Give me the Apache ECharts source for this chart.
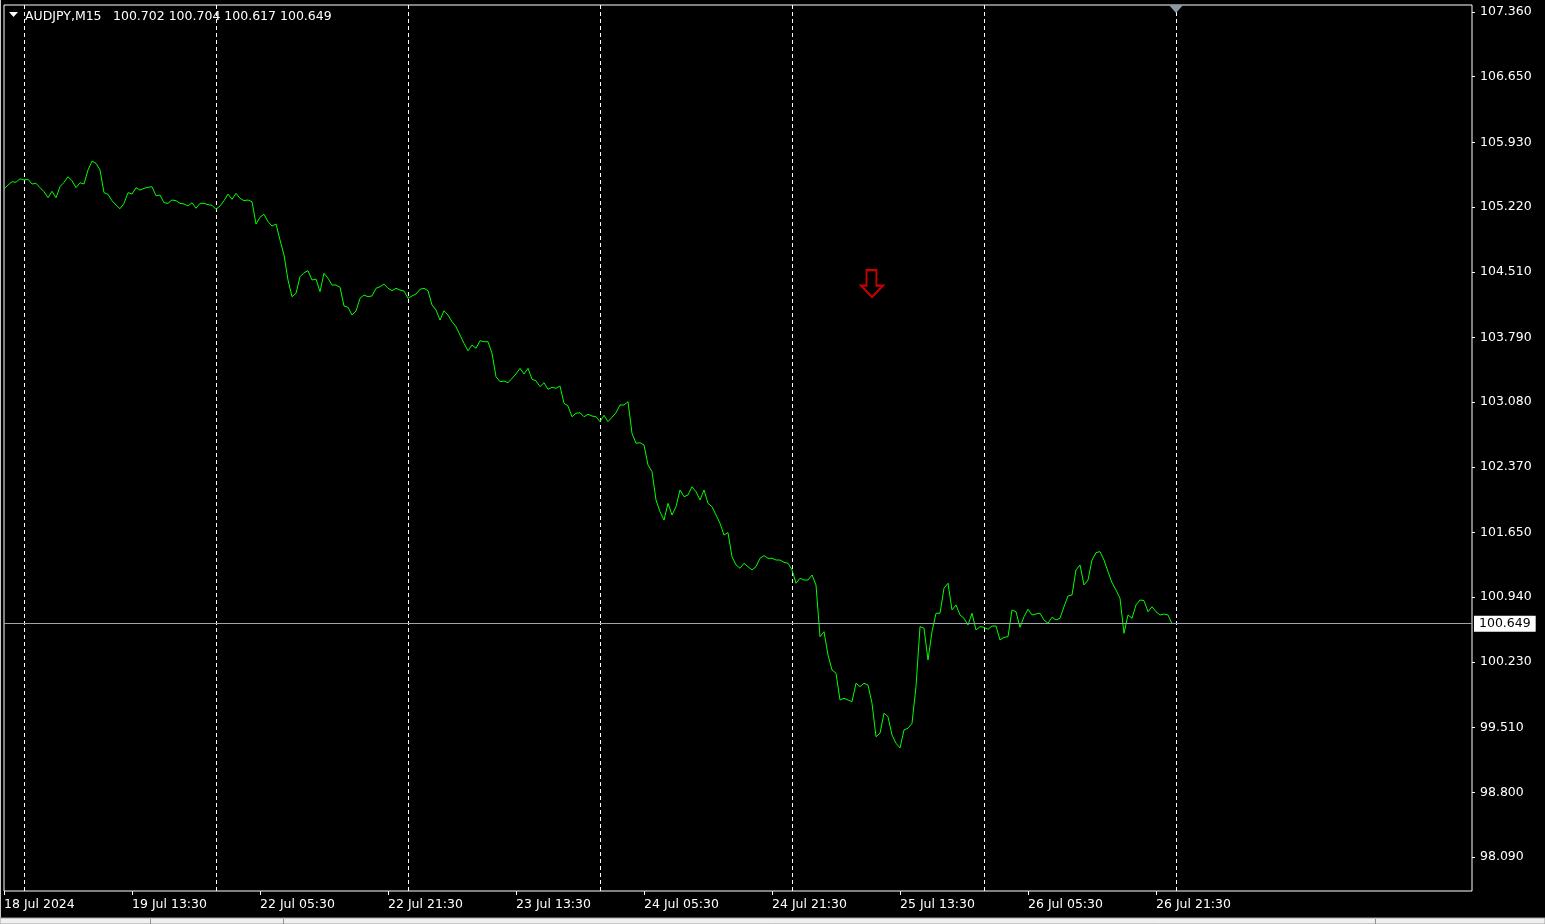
<!DOCTYPE html>
<html><head><meta charset="utf-8">
<script src="https://cdn.jsdelivr.net/npm/echarts@6/dist/echarts.min.js"></script>
<style>html,body{margin:0;padding:0;background:#000;overflow:hidden}#c{width:1545px;height:924px;}</style>
</head><body><div id="c"></div><script>
// ---- data ----
const symbolName = 'AUDJPY,M15';
const ohlcText = ['100.702', '100.704', '100.617', '100.649'];
const yTickValues = [107.360, 106.650, 105.930, 105.220, 104.510, 103.790, 103.080, 102.370, 101.650, 100.940, 100.230, 99.510, 98.800, 98.090];
const xTickLabels = ['18 Jul 2024', '19 Jul 13:30', '22 Jul 05:30', '22 Jul 21:30', '23 Jul 13:30', '24 Jul 05:30', '24 Jul 21:30', '25 Jul 13:30', '26 Jul 05:30', '26 Jul 21:30'];
// 30-minute closes, 18 Jul 21:30 -> 26 Jul 23:30 (weekend skipped)
const closes = [
105.418,105.462,105.498,105.492,105.531,105.517,105.525,105.473,105.481,105.433,
105.389,105.323,105.393,105.323,105.444,105.492,105.553,105.509,105.433,105.487,
105.473,105.627,105.725,105.700,105.627,105.378,105.360,105.290,105.243,105.202,
105.261,105.378,105.363,105.433,105.407,105.426,105.437,105.444,105.345,105.352,
105.268,105.261,105.298,105.290,105.261,105.254,105.232,105.268,105.207,105.261,
105.261,105.246,105.240,105.196,105.232,105.290,105.363,105.305,105.371,105.316,
105.290,105.298,105.279,105.034,105.108,105.141,105.060,105.012,105.034,104.859,
104.694,104.420,104.237,104.274,104.456,104.500,104.522,104.420,104.431,104.292,
104.494,104.439,104.365,104.365,104.340,104.135,104.120,104.036,104.080,104.219,
104.255,104.237,104.245,104.329,104.346,104.376,104.329,104.303,
104.329,104.310,104.299,104.219,104.245,104.266,104.318,104.329,104.303,104.146,
104.091,103.981,104.083,104.036,103.963,103.908,103.817,103.726,103.644,103.707,
103.671,103.754,103.743,103.743,103.616,103.359,103.304,103.312,103.293,103.342,
103.389,103.451,103.389,103.451,103.331,103.315,103.250,103.293,103.221,103.243,
103.232,103.257,103.067,103.038,102.920,102.958,102.964,102.920,102.947,
102.928,102.920,102.866,102.936,102.866,102.914,102.964,103.049,103.049,103.085,
102.738,102.629,102.635,102.610,102.391,102.317,102.007,101.878,101.787,101.970,
101.842,101.933,102.116,102.043,102.061,102.152,102.098,102.007,102.116,101.970,
101.933,101.842,101.751,101.623,101.648,101.385,101.294,101.257,101.312,101.275,
101.239,101.275,101.367,101.396,101.367,101.367,101.348,101.348,
101.323,101.312,101.239,101.093,101.148,101.129,101.129,101.184,101.074,100.507,
100.562,100.306,100.142,100.106,99.813,99.831,99.813,99.794,99.996,99.959,
99.996,99.977,99.776,99.410,99.447,99.667,99.629,99.429,99.338,99.286,
99.484,99.502,99.557,99.959,100.617,100.599,100.251,100.562,100.764,100.764,
101.038,101.093,100.800,100.855,100.745,100.709,100.635,100.764,100.580,
100.617,100.610,100.588,100.624,100.624,100.471,100.500,100.507,100.800,100.781,
100.610,100.726,100.808,100.745,100.756,100.764,100.690,100.654,100.720,100.690,
100.709,100.836,100.954,100.964,101.239,101.294,101.074,101.129,101.348,101.429,
101.440,101.348,101.220,101.099,101.019,100.928,100.544,100.745,100.709,100.855,
100.910,100.902,100.781,100.836,100.781,100.745,100.756,100.745,100.649
];
const lastPrice = 100.649;
const arrowPoint = [217, 104.381]; // [bar slot, price] of the sell-arrow object
const yMin = 97.717, yMax = 107.437;
const LABEL_EVERY = 32;     // x label every 16 hours
const TOTAL_SLOTS = 368;    // includes empty right-hand chart shift

// ---- categories: 30-min slots, weekends skipped ----
const categories = [];
let t = Date.UTC(2024, 6, 18, 21, 30);
while (categories.length < TOTAL_SLOTS) {
  const d = new Date(t);
  const dow = d.getUTCDay();
  if (dow !== 0 && dow !== 6) categories.push(d.toISOString().slice(0, 16).replace('T', ' '));
  t += 30 * 60000;
}

const FONT = 'DejaVu Sans';
const labelIdx = (i) => i % LABEL_EVERY === 0 && i < closes.length;
const chart = echarts.init(document.getElementById('c'), null, {renderer: 'canvas'});
chart.setOption({
  backgroundColor: '#000',
  animation: false,
  grid: {left: 4, right: 73, top: 5, bottom: 33, show: true, borderColor: '#ffffff', borderWidth: 1, backgroundColor: '#000'},
  xAxis: {
    type: 'category', data: categories, boundaryGap: false,
    axisLine: {show: false},
    axisTick: {show: true, interval: (i) => labelIdx(i), length: 4, lineStyle: {color: '#fff'}},
    axisLabel: {
      interval: (i) => labelIdx(i), showMinLabel: true, hideOverlap: false,
      formatter: (v, i) => xTickLabels[Math.round(i / LABEL_EVERY)] || '',
      align: 'left', margin: 7, color: '#ffffff', fontFamily: FONT, fontSize: 12.5
    },
    splitLine: {
      show: true,
      interval: (i, v) => i <= closes.length && String(v).endsWith('00:00'),
      lineStyle: {color: '#ffffff', type: [4, 3], width: 1}
    }
  },
  yAxis: {
    type: 'value', position: 'right', min: yMin, max: yMax, scale: true,
    axisLine: {show: false},
    axisTick: {show: true, customValues: yTickValues, length: 3, inside: false, lineStyle: {color: '#fff'}},
    axisLabel: {customValues: yTickValues, formatter: (v) => v.toFixed(3), color: '#ffffff', margin: 8, fontFamily: FONT, fontSize: 12.5},
    splitLine: {show: false}
  },
  series: [
    {
      type: 'line', data: closes, symbol: 'none', showSymbol: false,
      lineStyle: {color: '#00ff00', width: 1}, itemStyle: {color: '#00ff00'},
      z: 3,
      markLine: {
        silent: true, symbol: ['none', 'none'], animation: false,
        data: [{yAxis: lastPrice}],
        lineStyle: {color: '#a0a4ae', type: 'solid', width: 1},
        label: {
          show: true, position: 'end', distance: 2,
          formatter: () => lastPrice.toFixed(3),
          backgroundColor: '#ffffff', color: '#000000', padding: [2, 5, 1, 5],
          fontFamily: FONT, fontSize: 12.5
        }
      }
    },
    {
      type: 'scatter', data: [arrowPoint], z: 5,
      symbol: 'path://M6,0 L15,0 L15,15 L21,15 L11,26 L1,15 L6,15 Z',
      symbolSize: [22, 27],
      itemStyle: {color: 'rgba(0,0,0,0)', borderColor: '#ff0000', borderWidth: 2}
    }
  ]
});

// chart-shift marker at the last bar + header text + status strip
const shiftPx = chart.convertToPixel({xAxisIndex: 0, yAxisIndex: 0}, [closes.length, yMax]);
chart.setOption({
  graphic: [
    {type: 'polygon', shape: {points: [[9, 12], [18, 12], [13.5, 17]]}, style: {fill: '#ffffff'}, z: 10},
    {type: 'text', x: 25, y: 17, style: {text: symbolName, fill: '#ffffff', font: '12.5px "DejaVu Sans"', textVerticalAlign: 'middle'}, z: 10},
    {type: 'text', x: 113, y: 17, style: {text: ohlcText.join(' '), fill: '#ffffff', font: '12.5px "DejaVu Sans"', textVerticalAlign: 'middle'}, z: 10},
    {type: 'polygon', shape: {points: [[shiftPx[0] - 7, shiftPx[1]], [shiftPx[0] + 7, shiftPx[1]], [shiftPx[0], shiftPx[1] + 8]]}, style: {fill: '#8c98a8'}, z: 10},
    {type: 'line', shape: {x1: 0.5, y1: 0, x2: 0.5, y2: 918}, style: {stroke: '#c8c8c8', lineWidth: 1}, z: 10},
    {type: 'rect', shape: {x: 0, y: 918, width: 1545, height: 6}, style: {fill: '#f0f0f0', stroke: '#a0a0a0', lineWidth: 1}, z: 10},
    {type: 'line', shape: {x1: 150.5, y1: 919, x2: 150.5, y2: 924}, style: {stroke: '#909090'}, z: 11},
    {type: 'line', shape: {x1: 283.5, y1: 919, x2: 283.5, y2: 924}, style: {stroke: '#909090'}, z: 11},
    {type: 'line', shape: {x1: 1375.5, y1: 919, x2: 1375.5, y2: 924}, style: {stroke: '#909090'}, z: 11}
  ]
});
</script></body></html>
